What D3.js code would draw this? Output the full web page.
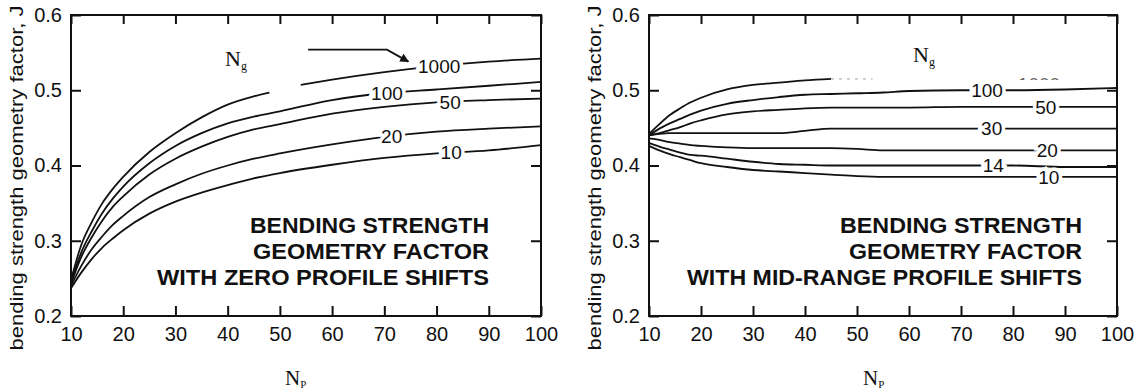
<!DOCTYPE html>
<html>
<head>
<meta charset="utf-8">
<title>Bending strength geometry factor</title>
<style>
  body { margin: 0; background: white; }
  svg { display: block; }
  .tick text { font-family: "Liberation Sans", Arial, sans-serif; font-size: 20px; fill: #111; }
  .tick line { stroke: #111; stroke-width: 2; }
</style>
</head>
<body>
<svg id="chart"></svg>
<script src="https://cdnjs.cloudflare.com/ajax/libs/d3/7.8.5/d3.min.js"></script>
<script>
// ---- data ----
var xTicks = [10, 20, 30, 40, 50, 60, 70, 80, 90, 100];
var yTicks = [0.2, 0.3, 0.4, 0.5, 0.6];

// zero profile shifts (left)
var npLeft = [10, 12, 14, 16, 18, 20, 25, 30, 35, 40, 45, 50, 60, 70, 80, 90, 100];
var jL10   = [0.237, 0.258, 0.276, 0.291, 0.303, 0.314, 0.336, 0.352, 0.364, 0.374, 0.383, 0.390, 0.401, 0.410, 0.416, 0.420, 0.427];
var jL20   = [0.240, 0.267, 0.289, 0.306, 0.321, 0.333, 0.358, 0.375, 0.389, 0.400, 0.409, 0.416, 0.428, 0.438, 0.445, 0.449, 0.452];
var jL50   = [0.243, 0.279, 0.305, 0.327, 0.345, 0.359, 0.388, 0.409, 0.425, 0.438, 0.448, 0.455, 0.469, 0.478, 0.484, 0.487, 0.489];
var jL100  = [0.245, 0.285, 0.313, 0.337, 0.356, 0.372, 0.403, 0.426, 0.443, 0.456, 0.465, 0.472, 0.487, 0.496, 0.501, 0.506, 0.511];
var npL1000 = [10, 12, 14, 16, 18, 20, 25, 30, 35, 40, 45, 48, 51, 54, 60, 70, 80, 90, 100];
var jL1000  = [0.248, 0.295, 0.325, 0.350, 0.369, 0.385, 0.418, 0.443, 0.464, 0.481, 0.492, 0.497, null, 0.507, 0.514, 0.524, 0.532, 0.538, 0.542];
var labelsLeft = ["1000", "100", "50", "20", "10"];
var labelNpLeft = [80.5, 70.5, 82.6, 71.4, 82.8];
var arrowNp = [55.4, 70.5, 74.6];
var arrowJ  = [0.554, 0.554, 0.538];

// mid-range profile shifts (right)
var npRight = [10, 12, 14, 16, 18, 20, 25, 30, 35, 40, 45, 50, 55, 60, 70, 80, 90, 100];
var jR10  = [0.426, 0.420, 0.415, 0.411, 0.407, 0.403, 0.398, 0.394, 0.392, 0.390, 0.388, 0.386, 0.385, 0.385, 0.385, 0.385, 0.385, 0.385];
var jR14  = [0.430, 0.425, 0.421, 0.417, 0.414, 0.413, 0.409, 0.405, 0.402, 0.401, 0.400, 0.400, 0.400, 0.400, 0.400, 0.400, 0.398, 0.398];
var jR20  = [0.436, 0.434, 0.431, 0.429, 0.427, 0.426, 0.424, 0.423, 0.423, 0.423, 0.423, 0.422, 0.420, 0.420, 0.420, 0.420, 0.420, 0.420];
var jR30  = [0.440, 0.442, 0.443, 0.443, 0.443, 0.443, 0.443, 0.443, 0.443, 0.446, 0.449, 0.449, 0.449, 0.449, 0.449, 0.449, 0.449, 0.449];
var jR50  = [0.440, 0.443, 0.447, 0.451, 0.456, 0.460, 0.468, 0.472, 0.474, 0.476, 0.477, 0.477, 0.477, 0.477, 0.478, 0.478, 0.478, 0.478];
var jR100 = [0.440, 0.449, 0.456, 0.462, 0.468, 0.473, 0.482, 0.487, 0.491, 0.494, 0.495, 0.496, 0.497, 0.499, 0.500, 0.500, 0.501, 0.503];
var npR1000 = [10, 12, 14, 16, 18, 20, 25, 30, 35, 40, 45];
var jR1000  = [0.442, 0.455, 0.467, 0.476, 0.484, 0.490, 0.501, 0.507, 0.510, 0.513, 0.515];
var npR1000faded = [45, 49, 53];
var jR1000faded  = [0.515, 0.515, 0.515];
var labelsRight = ["100", "50", "30", "20", "14", "10"];
var labelNpRight = [75, 86.3, 75.9, 86.6, 76.2, 86.9];

var width = 1136, height = 392;
var plotTop = 15, plotBottom = 316;

var svg = d3.select("#chart").attr("width", width).attr("height", height);

function zip(xs, ys) { return xs.map(function(x, i) { return [x, ys[i]]; }); }

function valueAt(xs, ys, n) {
  for (var i = 0; i < xs.length - 1; i++) {
    if (n >= xs[i] && n <= xs[i + 1] && ys[i] != null && ys[i + 1] != null) {
      var t = (n - xs[i]) / (xs[i + 1] - xs[i]);
      return ys[i] + t * (ys[i + 1] - ys[i]);
    }
  }
  return ys[ys.length - 1];
}

function panel(opt) {
  var x = d3.scaleLinear().domain([10, 100]).range([opt.x0, opt.x1]);
  var y = d3.scaleLinear().domain([0.2, 0.6]).range([plotBottom, plotTop]);
  var line = d3.line()
    .defined(function(d) { return d[1] != null; })
    .x(function(d) { return x(d[0]); })
    .y(function(d) { return y(d[1]); })
    .curve(d3.curveMonotoneX);

  var g = svg.append("g");

  // axes with inward ticks
  g.append("g").attr("transform", "translate(0," + plotBottom + ")")
    .call(d3.axisBottom(x).tickValues(xTicks).tickSize(-10).tickPadding(11))
    .call(function(a) { a.select(".domain").remove(); });
  g.append("g").attr("transform", "translate(0," + plotTop + ")")
    .call(d3.axisTop(x).tickValues(xTicks).tickSize(-9).tickFormat(""))
    .call(function(a) { a.select(".domain").remove(); });
  g.append("g").attr("transform", "translate(" + opt.x0 + ",0)")
    .call(d3.axisLeft(y).tickValues(yTicks).tickSize(-10).tickPadding(9).tickFormat(d3.format(".1f")))
    .call(function(a) { a.select(".domain").remove(); });
  g.append("g").attr("transform", "translate(" + opt.x1 + ",0)")
    .call(d3.axisRight(y).tickValues(yTicks).tickSize(-10).tickFormat(""))
    .call(function(a) { a.select(".domain").remove(); });

  g.append("rect")
    .attr("x", opt.x0).attr("y", plotTop)
    .attr("width", opt.x1 - opt.x0).attr("height", plotBottom - plotTop)
    .attr("fill", "none").attr("stroke", "#111").attr("stroke-width", 2);

  // curves
  opt.series.forEach(function(s) {
    g.append("path")
      .attr("d", line(zip(s.np, s.j)))
      .attr("fill", "none")
      .attr("stroke", s.faded ? "#c8c8c8" : "#111")
      .attr("stroke-width", 1.8)
      .attr("stroke-dasharray", s.faded ? "3,5" : null);
  });

  // curve labels, white halo breaks the line
  opt.labels.forEach(function(lb) {
    g.append("text")
      .attr("x", x(lb.np))
      .attr("y", y(valueAt(lb.xs, lb.ys, lb.np)))
      .attr("dy", "0.36em")
      .attr("text-anchor", "middle")
      .attr("font-family", "Liberation Sans, Arial, sans-serif")
      .attr("font-size", 19)
      .attr("fill", "#111")
      .attr("stroke", "white").attr("stroke-width", 7)
      .attr("paint-order", "stroke")
      .text(lb.text);
  });

  // Ng
  var ng = g.append("text")
    .attr("x", opt.ngX).attr("y", opt.ngY)
    .attr("font-family", "Liberation Serif, Times New Roman, serif")
    .attr("font-size", 22).attr("fill", "#111");
  ng.append("tspan").text("N");
  ng.append("tspan").attr("font-size", 12).attr("dy", 4).text("g");

  // Np
  var np = g.append("text")
    .attr("x", opt.x0 + 214).attr("y", 385)
    .attr("font-family", "Liberation Serif, Times New Roman, serif")
    .attr("font-size", 21).attr("fill", "#111");
  np.append("tspan").text("N");
  np.append("tspan").attr("font-size", 11).attr("dy", 3).text("P");

  // y title
  g.append("text")
    .attr("transform", "translate(" + (opt.x0 - 48) + "," + 178 + ") rotate(-90)")
    .attr("text-anchor", "middle")
    .attr("font-family", "Liberation Sans, Arial, sans-serif")
    .attr("font-size", 18).attr("fill", "#111")
    .attr("textLength", 345).attr("lengthAdjust", "spacingAndGlyphs")
    .text("bending strength geometry factor, J");

  // note block
  var note = g.append("text")
    .attr("text-anchor", "end")
    .attr("font-family", "Liberation Sans, Arial, sans-serif")
    .attr("font-weight", "bold").attr("font-size", 22.5).attr("fill", "#111");
  opt.note.forEach(function(t, i) {
    note.append("tspan")
      .attr("x", opt.noteX).attr("y", 233 + i * 26)
      .attr("textLength", opt.noteLen[i]).attr("lengthAdjust", "spacingAndGlyphs")
      .text(t);
  });

  return { g: g, x: x, y: y };
}

var left = panel({
  x0: 71, x1: 541,
  series: [
    { np: npLeft, j: jL10 }, { np: npLeft, j: jL20 }, { np: npLeft, j: jL50 },
    { np: npLeft, j: jL100 }, { np: npL1000, j: jL1000 }
  ],
  labels: labelsLeft.map(function(t, i) {
    var src = [[npL1000, jL1000], [npLeft, jL100], [npLeft, jL50], [npLeft, jL20], [npLeft, jL10]][i];
    return { text: t, np: labelNpLeft[i], xs: src[0], ys: src[1] };
  }),
  ngX: 225, ngY: 66,
  note: ["BENDING STRENGTH", "GEOMETRY FACTOR", "WITH ZERO PROFILE SHIFTS"],
  noteLen: [239, 236, 332],
  noteX: 489
});

// arrow to the 1000 label
svg.append("defs").append("marker")
  .attr("id", "head").attr("viewBox", "0 0 10 10")
  .attr("refX", 9).attr("refY", 5)
  .attr("markerWidth", 5).attr("markerHeight", 5)
  .attr("orient", "auto")
  .append("path").attr("d", "M0,0 L10,5 L0,10 z").attr("fill", "#111");

left.g.append("path")
  .attr("d", d3.line().x(function(d) { return left.x(d[0]); }).y(function(d) { return left.y(d[1]); })(zip(arrowNp, arrowJ)))
  .attr("fill", "none").attr("stroke", "#111").attr("stroke-width", 1.8)
  .attr("marker-end", "url(#head)");

var right = panel({
  x0: 649, x1: 1117,
  series: [
    { np: npRight, j: jR10 }, { np: npRight, j: jR14 }, { np: npRight, j: jR20 },
    { np: npRight, j: jR30 }, { np: npRight, j: jR50 }, { np: npRight, j: jR100 },
    { np: npR1000, j: jR1000 }, { np: npR1000faded, j: jR1000faded, faded: true }
  ],
  labels: labelsRight.map(function(t, i) {
    var src = [jR100, jR50, jR30, jR20, jR14, jR10][i];
    return { text: t, np: labelNpRight[i], xs: npRight, ys: src };
  }),
  ngX: 913, ngY: 62,
  note: ["BENDING STRENGTH", "GEOMETRY FACTOR", "WITH MID-RANGE PROFILE SHIFTS"],
  noteLen: [242, 233, 395],
  noteX: 1082
});

// faded "1000" label, only its top edge survives in the picture
svg.append("clipPath").attr("id", "fadeclip")
  .append("rect").attr("x", 1000).attr("y", 76).attr("width", 90).attr("height", 4);
right.g.append("text")
  .attr("x", right.x(85)).attr("y", right.y(0.508))
  .attr("dy", "0.36em").attr("text-anchor", "middle")
  .attr("font-family", "Liberation Sans, Arial, sans-serif")
  .attr("font-size", 19).attr("fill", "#666")
  .attr("clip-path", "url(#fadeclip)")
  .text("1000");
</script>
</body>
</html>
